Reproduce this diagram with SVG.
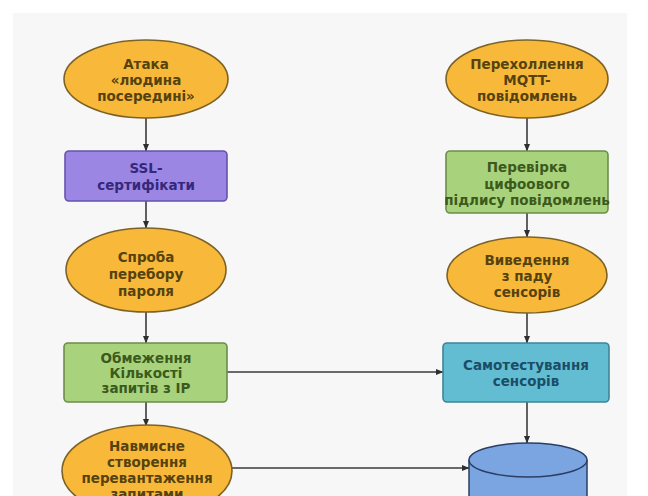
<svg xmlns="http://www.w3.org/2000/svg" width="648" height="496" viewBox="0 0 648 496">
  <defs>
    <marker id="arrow" viewBox="0 0 8 8" refX="7.5" refY="4" markerWidth="8" markerHeight="8" markerUnits="userSpaceOnUse" orient="auto">
      <path d="M0,0.8 L8,4 L0,7.2 Z" fill="#2f2f2f"/>
    </marker>
    <style>
      .bg { fill: #ffffff; }
      .panel { fill: #f7f7f7; }
      .oval { fill: #f8b93a; stroke: #7d6226; stroke-width: 1.6; }
      .purple { fill: #9c86e4; stroke: #6752ad; stroke-width: 1.6; }
      .green { fill: #a9d27c; stroke: #6c8d4a; stroke-width: 1.6; }
      .teal { fill: #62bdd2; stroke: #3d8596; stroke-width: 1.6; }
      .db { fill: #7ba5e0; stroke: #2b3f66; stroke-width: 1.5; }
      .edge { fill: none; stroke: #3a3a3a; stroke-width: 1.6; }
      text { font-family: "DejaVu Sans", "Liberation Sans", sans-serif; font-size: 13.5px; font-weight: bold; text-anchor: middle; dominant-baseline: central; }
      .t-oval { fill: #56420f; }
      .t-purple { fill: #35287a; }
      .t-green { fill: #3b5a1c; }
      .t-teal { fill: #1c4d66; }
    </style>
  </defs>

  <rect class="bg" x="0" y="0" width="648" height="496"/>
  <rect class="panel" x="13" y="13" width="614" height="483"/>

  <!-- connectors -->
  <g id="connectors">
    <line class="edge" x1="146" y1="118" x2="146" y2="151" marker-end="url(#arrow)"/>
    <line class="edge" x1="146" y1="201" x2="146" y2="228" marker-end="url(#arrow)"/>
    <line class="edge" x1="146" y1="312" x2="146" y2="343" marker-end="url(#arrow)"/>
    <line class="edge" x1="146" y1="402" x2="146" y2="426" marker-end="url(#arrow)"/>
    <line class="edge" x1="527" y1="118" x2="527" y2="151" marker-end="url(#arrow)"/>
    <line class="edge" x1="527" y1="213" x2="527" y2="237" marker-end="url(#arrow)"/>
    <line class="edge" x1="527" y1="313" x2="527" y2="343" marker-end="url(#arrow)"/>
    <line class="edge" x1="527" y1="402" x2="527" y2="443" marker-end="url(#arrow)"/>
    <line class="edge" x1="227" y1="372" x2="443" y2="372" marker-end="url(#arrow)"/>
    <line class="edge" x1="232" y1="468" x2="469" y2="468" marker-end="url(#arrow)"/>
  </g>

  <!-- left column -->
  <g id="mitm-attack">
    <ellipse class="oval" cx="146" cy="79" rx="82" ry="39"/>
    <text class="t-oval" x="146" y="64">Атака</text>
    <text class="t-oval" x="146" y="80">«людина</text>
    <text class="t-oval" x="146" y="96">посередині»</text>
  </g>

  <g id="ssl-certs">
    <rect class="purple" x="65" y="151" width="162" height="50" rx="4"/>
    <text class="t-purple" x="146" y="168">SSL-</text>
    <text class="t-purple" x="146" y="185">сертифікати</text>
  </g>

  <g id="password-bruteforce">
    <ellipse class="oval" cx="146" cy="270" rx="80" ry="42"/>
    <text class="t-oval" x="146" y="257">Спроба</text>
    <text class="t-oval" x="146" y="274">перебору</text>
    <text class="t-oval" x="146" y="291">пароля</text>
  </g>

  <g id="ip-rate-limit">
    <rect class="green" x="64" y="343" width="163" height="59" rx="4"/>
    <text class="t-green" x="146" y="358">Обмеження</text>
    <text class="t-green" x="146" y="373">Кількості</text>
    <text class="t-green" x="146" y="388">запитів з IP</text>
  </g>

  <g id="request-overload">
    <ellipse class="oval" cx="147" cy="471" rx="85" ry="46"/>
    <text class="t-oval" x="147" y="446">Навмисне</text>
    <text class="t-oval" x="147" y="462">створення</text>
    <text class="t-oval" x="147" y="478">перевантаження</text>
    <text class="t-oval" x="147" y="494">запитами</text>
  </g>

  <!-- right column -->
  <g id="mqtt-interception">
    <ellipse class="oval" cx="527" cy="79" rx="81" ry="39"/>
    <text class="t-oval" x="527" y="64">Перехоллення</text>
    <text class="t-oval" x="527" y="80">MQTT-</text>
    <text class="t-oval" x="527" y="96">повідомлень</text>
  </g>

  <g id="signature-check">
    <rect class="green" x="446" y="151" width="162" height="62" rx="4"/>
    <text class="t-green" x="527" y="167">Перевірка</text>
    <text class="t-green" x="527" y="184">цифоового</text>
    <text class="t-green" x="527" y="200">підлису повідомлень</text>
  </g>

  <g id="sensor-disable">
    <ellipse class="oval" cx="527" cy="275" rx="80" ry="38"/>
    <text class="t-oval" x="527" y="260">Виведення</text>
    <text class="t-oval" x="527" y="276">з паду</text>
    <text class="t-oval" x="527" y="292">сенсорів</text>
  </g>

  <g id="sensor-selftest">
    <rect class="teal" x="443" y="343" width="166" height="59" rx="4"/>
    <text class="t-teal" x="526" y="365">Самотестування</text>
    <text class="t-teal" x="526" y="381">сенсорів</text>
  </g>

  <g id="storage">
    <path class="db" d="M469,460 L469,510 A59,17 0 0 0 587,510 L587,460"/>
    <ellipse class="db" cx="528" cy="460" rx="59" ry="17"/>
  </g>
</svg>
